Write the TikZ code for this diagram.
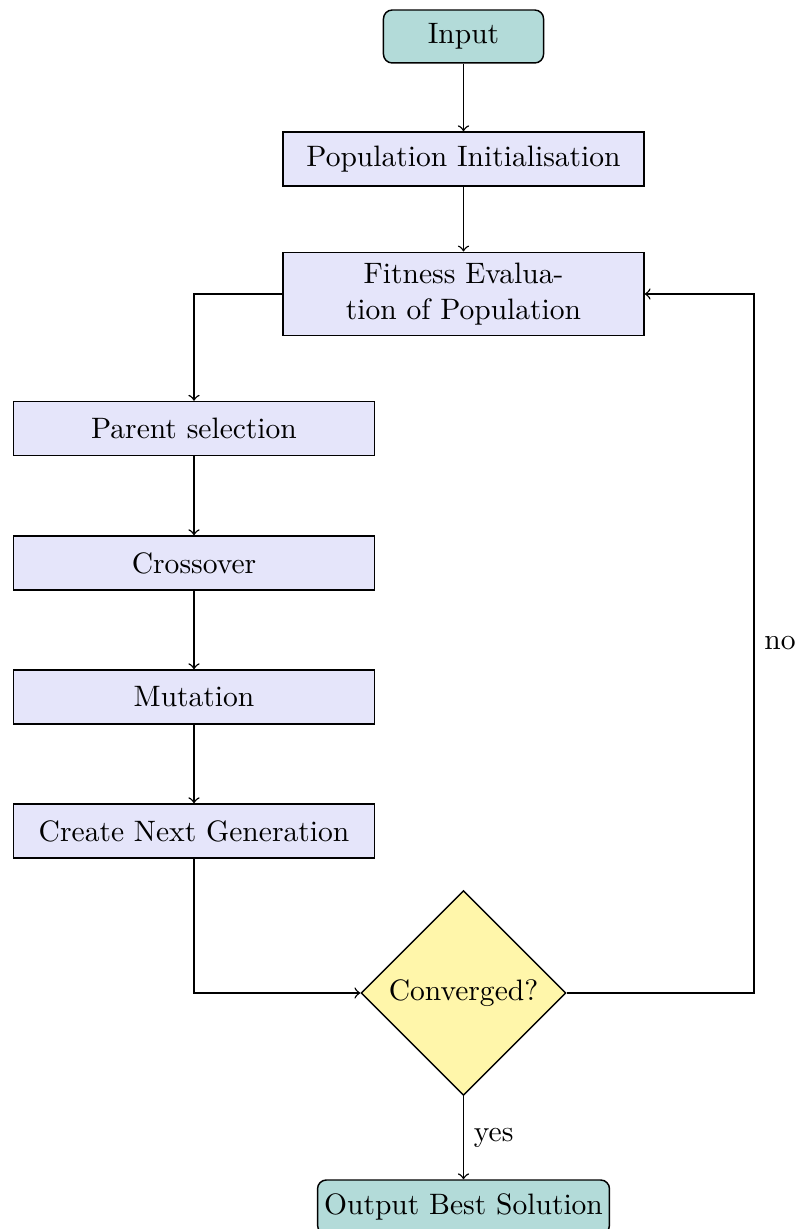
\documentclass[tikz,border=0pt]{standalone}
\usetikzlibrary{shapes.geometric}
\definecolor{termfill}{RGB}{179,219,217}
\definecolor{procfill}{RGB}{229,229,250}
\definecolor{decfill}{RGB}{255,246,170}
\begin{document}
\begin{tikzpicture}[x=0.3436pt,y=-0.3436pt,
  every node/.style={font=\fontsize{10.15}{12.4}\selectfont},
  term/.style={draw,line width=0.5pt,fill=termfill,rounded corners=3pt,minimum width=55pt,minimum height=18.2pt,inner sep=1pt},
  proc/.style={draw,line width=0.5pt,fill=procfill,minimum width=124pt,minimum height=18.55pt,inner sep=1pt,align=center},
  dec/.style={draw,line width=0.5pt,fill=decfill,diamond,minimum width=70.4pt,minimum height=70.4pt,inner sep=0pt},
  conn/.style={->,line width=0.5pt}]
\useasboundingbox (0,0) rectangle (794,1229);
\node[term] (in) at (463.5,36.5) {Input};
\node[proc] (pop) at (463.5,159) {Population Initialisation};
\node[proc,minimum height=28.7pt] (fit) at (463.5,294) {Fitness Evalua-\\tion of Population};
\node[proc] (par) at (194,428.5) {Parent selection};
\node[proc] (cro) at (194,563) {Crossover};
\node[proc] (mut) at (194,697) {Mutation};
\node[proc] (cng) at (194,831) {Create Next Generation};
\node[dec] (conv) at (463.5,993) {Converged?};
\node[term,minimum width=100.3pt,minimum height=18.55pt] (out) at (463.5,1207) {Output Best Solution};
\coordinate (fl) at (194,294);
\coordinate (cl) at (194,993);
\coordinate (rb) at (754,993);
\coordinate (rt) at (754,294);
\draw[conn] (in) -- (pop);
\draw[conn] (pop) -- (fit);
\draw[conn] (fit.west) -- (fl) -- (par.north);
\draw[conn] (par) -- (cro);
\draw[conn] (cro) -- (mut);
\draw[conn] (mut) -- (cng);
\draw[conn] (cng.south) -- (cl) -- (conv.west);
\draw[conn] (conv.east) -- (rb) -- node[right] {no} (rt) -- (fit.east);
\draw[conn] (conv.south) -- node[right] {yes} (out.north);
\end{tikzpicture}
\end{document}
